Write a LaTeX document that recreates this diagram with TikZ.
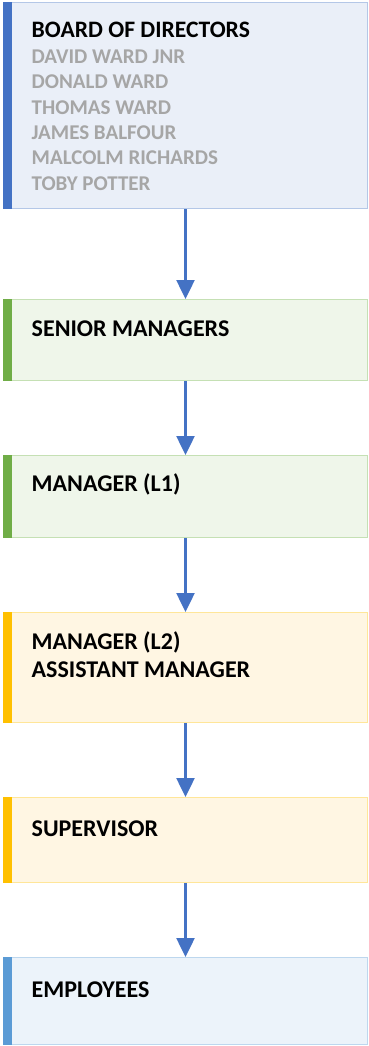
\documentclass[tikz,border=0pt]{standalone}
\usepackage{fontspec}
\setmainfont{Carlito}
\usepackage{tikz}
\usetikzlibrary{arrows.meta,positioning}

\definecolor{boardfill}{HTML}{EAEFF8}
\definecolor{boardline}{HTML}{B4C7E7}
\definecolor{boardbar}{HTML}{4472C4}
\definecolor{greenfill}{HTML}{EFF6EA}
\definecolor{greenline}{HTML}{C5E0B4}
\definecolor{greenbar}{HTML}{70AD47}
\definecolor{goldfill}{HTML}{FFF6E3}
\definecolor{goldline}{HTML}{FFE699}
\definecolor{goldbar}{HTML}{FFC000}
\definecolor{empfill}{HTML}{ECF3FA}
\definecolor{empline}{HTML}{BDD7EE}
\definecolor{empbar}{HTML}{5B9BD5}
\definecolor{linkblue}{HTML}{4472C4}
\definecolor{namegray}{HTML}{A6A6A6}

\begin{document}
\begin{tikzpicture}[x=1pt,y=-1pt]
\tikzset{
  tier/.style 2 args={draw=#2, fill=#1, line width=1pt, minimum width=364pt,
    inner sep=0pt, anchor=north west},
  head/.style={font=\bfseries\fontsize{24}{28}\selectfont, anchor=base west,
    inner sep=0pt, align=flush left, text width=320pt},
  link/.style={draw=linkblue, line width=2.5pt, -{Triangle[width=18pt,length=19pt]}}
}
\useasboundingbox (0,0) rectangle (369,1046);
% tiers
\node[tier={boardfill}{boardline}, minimum height=206pt] (board) at (3,2) {};
\node[tier={greenfill}{greenline}, minimum height=81pt] (senior) at (3,299) {};
\node[tier={greenfill}{greenline}, minimum height=82pt] (mgrone) at (3,455) {};
\node[tier={goldfill}{goldline}, minimum height=110pt] (mgrtwo) at (3,612) {};
\node[tier={goldfill}{goldline}, minimum height=85pt] (super) at (3,797) {};
\node[tier={empfill}{empline}, minimum height=87pt] (staff) at (3,957) {};
% coloured bars on the left
\foreach \t/\c in {board/boardbar, senior/greenbar, mgrone/greenbar,
                   mgrtwo/goldbar, super/goldbar, staff/empbar}
  \fill[\c] (\t.north west) rectangle ([xshift=9pt]\t.south west);
% titles
\node[head, font=\bfseries\fontsize{21}{25.4}\selectfont] (boardtxt)
  at ([xshift=28.5pt,yshift=-36pt]board.north west)
  {{\fontsize{23.6}{25.4}\selectfont BOARD OF DIRECTORS}\\
   \textcolor{namegray}{DAVID WARD JNR}\\
   \textcolor{namegray}{DONALD WARD}\\
   \textcolor{namegray}{THOMAS WARD}\\
   \textcolor{namegray}{JAMES BALFOUR}\\
   \textcolor{namegray}{MALCOLM RICHARDS}\\
   \textcolor{namegray}{TOBY POTTER}};
\node[head] (seniortxt) at ([xshift=28.5pt,yshift=-37pt]senior.north west) {SENIOR MANAGERS};
\node[head] (mgronetxt) at ([xshift=28.5pt,yshift=-36.5pt]mgrone.north west) {MANAGER (L1)};
\node[head] (mgrtwotxt) at ([xshift=28.5pt,yshift=-37.5pt]mgrtwo.north west)
  {MANAGER (L2)\\ASSISTANT MANAGER};
\node[head] (supertxt) at ([xshift=28.5pt,yshift=-39.5pt]super.north west) {SUPERVISOR};
\node[head] (stafftxt) at ([xshift=28.5pt,yshift=-40pt]staff.north west) {EMPLOYEES};
% arrows
\draw[link] (board) -- (senior);
\draw[link] (senior) -- (mgrone);
\draw[link] (mgrone) -- (mgrtwo);
\draw[link] (mgrtwo) -- (super);
\draw[link] (super) -- (staff);
\end{tikzpicture}
\end{document}
